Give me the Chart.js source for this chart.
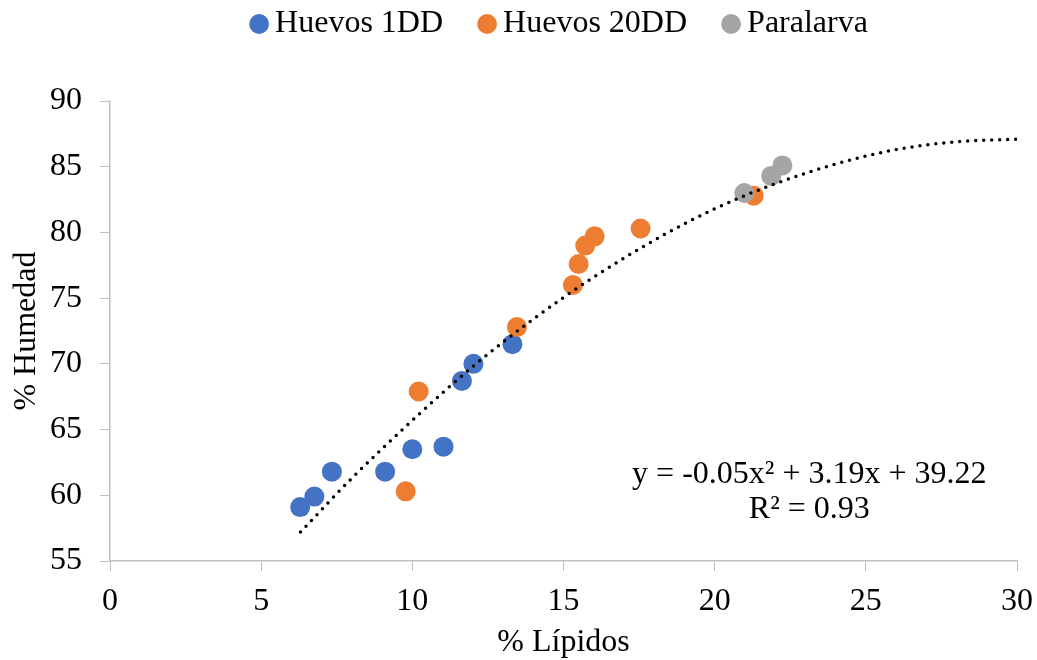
<!DOCTYPE html>
<html>
<head>
<meta charset="utf-8">
<script src="https://cdn.jsdelivr.net/npm/chart.js@4"></script>
<style>
  body { margin: 0; background: #fff; }
</style>
</head>
<body>
<canvas id="myChart" width="1037" height="660"></canvas>
<script>
// values
const seriesNames = ['Huevos 1DD', 'Huevos 20DD', 'Paralarva'];

const blueX = [6.29, 6.76, 7.34, 9.10, 10.00, 11.03, 11.64, 12.02, 13.31];
const blueY = [59.1, 59.9, 61.8, 61.8, 63.5, 63.7, 68.7, 70.0, 71.5];

const orangeX = [9.78, 10.21, 13.46, 15.31, 15.50, 15.72, 16.03, 17.55, 21.29];
const orangeY = [60.3, 67.9, 72.8, 76.0, 77.6, 79.0, 79.7, 80.3, 82.8];

const grayX = [20.98, 21.87, 22.24];
const grayY = [83.0, 84.3, 85.1];

// dotted trend line, read at a few x positions
const trendX = [6.3, 8, 10, 12, 14, 16, 18, 20, 22, 24, 26, 28, 30];
const trendY = [57.2, 61.3, 65.7, 69.8, 73.4, 76.6, 79.4, 81.8, 83.7, 85.2, 86.3, 86.9, 87.1];

const xTicks = [0, 5, 10, 15, 20, 25, 30];
const yTicks = [55, 60, 65, 70, 75, 80, 85, 90];

const eqLines = ['y = -0.05x\u00B2 + 3.19x + 39.22', 'R\u00B2 = 0.93'];

const FONT = "'Liberation Serif', 'Times New Roman', serif";
const FS = 32;

const toPoints = (xs, ys) => xs.map((x, i) => ({ x: x, y: ys[i] }));

// trend equation label, placed in data coordinates
const eqPos = { x: 23.13, y: [60.9, 58.25] };
const equationLabel = {
  id: 'equationLabel',
  afterDraw(chart) {
    const { ctx, scales } = chart;
    ctx.save();
    ctx.font = FS + 'px ' + FONT;
    ctx.fillStyle = '#000';
    ctx.textAlign = 'center';
    ctx.textBaseline = 'alphabetic';
    eqLines.forEach((t, i) => {
      ctx.fillText(t, scales.x.getPixelForValue(eqPos.x), scales.y.getPixelForValue(eqPos.y[i]));
    });
    ctx.restore();
  }
};

const ctx = document.getElementById('myChart').getContext('2d');
new Chart(ctx, {
  type: 'scatter',
  data: {
    datasets: [
      {
        label: seriesNames[0],
        data: toPoints(blueX, blueY),
        backgroundColor: '#4472C4',
        borderWidth: 0,
        pointRadius: 10,
        pointStyle: 'circle',
        order: 3
      },
      {
        label: seriesNames[1],
        data: toPoints(orangeX, orangeY),
        backgroundColor: '#ED7D31',
        borderWidth: 0,
        pointRadius: 10,
        pointStyle: 'circle',
        order: 2
      },
      {
        label: seriesNames[2],
        data: toPoints(grayX, grayY),
        backgroundColor: '#A5A5A5',
        borderWidth: 0,
        pointRadius: 10,
        pointStyle: 'circle',
        order: 1
      },
      {
        label: 'trend',
        type: 'line',
        data: toPoints(trendX, trendY),
        borderColor: '#000',
        borderWidth: 3.5,
        borderDash: [0, 8],
        borderCapStyle: 'round',
        cubicInterpolationMode: 'monotone',
        pointRadius: 0,
        fill: false,
        order: 0
      }
    ]
  },
  options: {
    responsive: false,
    animation: false,
    events: [],
    layout: { padding: { top: 4, right: 0, bottom: 0, left: 0 } },
    scales: {
      x: {
        type: 'linear',
        min: 0,
        max: 30,
        afterBuildTicks: (axis) => { axis.ticks = xTicks.map(v => ({ value: v })); },
        afterFit: (axis) => { axis.height = 99; axis.paddingRight = 20; },
        grid: { drawOnChartArea: false, drawTicks: true, tickLength: 10, color: '#bfbfbf' },
        border: { color: '#bfbfbf', width: 1.5 },
        ticks: { color: '#000', padding: 11, font: { family: FONT, size: FS } },
        title: {
          display: true, text: '% Lípidos', color: '#000',
          font: { family: FONT, size: FS }, padding: { top: 0, bottom: -2 }
        }
      },
      y: {
        type: 'linear',
        min: 55,
        max: 90,
        afterBuildTicks: (axis) => { axis.ticks = yTicks.map(v => ({ value: v })); },
        afterFit: (axis) => { axis.width = 110; },
        grid: { drawOnChartArea: false, drawTicks: true, tickLength: 10, color: '#bfbfbf' },
        border: { color: '#bfbfbf', width: 1.5 },
        ticks: { color: '#000', padding: 18, font: { family: FONT, size: FS } },
        title: {
          display: true, text: '% Humedad', color: '#000',
          font: { family: FONT, size: FS }, padding: { top: 7, bottom: 0 }
        }
      }
    },
    plugins: {
      tooltip: { enabled: false },
      legend: {
        position: 'top',
        fullSize: false,
        labels: {
          usePointStyle: true,
          boxWidth: 0.01,
          boxHeight: 14,
          padding: 4,
          color: '#000',
          font: { family: FONT, size: FS },
          filter: (item) => item.datasetIndex !== 3,
          sort: (a, b) => a.datasetIndex - b.datasetIndex,
          generateLabels: (chart) => {
            const items = Chart.defaults.plugins.legend.labels.generateLabels(chart);
            items.forEach(it => { if (it.datasetIndex < 2) it.text = it.text + '     '; });
            return items;
          }
        }
      },
      // empty title used only as a spacer between legend and plot
      title: {
        display: true,
        text: '',
        weight: 500,
        font: { size: 10, lineHeight: 1 },
        padding: { top: 41, bottom: 0 }
      }
    }
  },
  plugins: [equationLabel]
});
</script>
</body>
</html>
